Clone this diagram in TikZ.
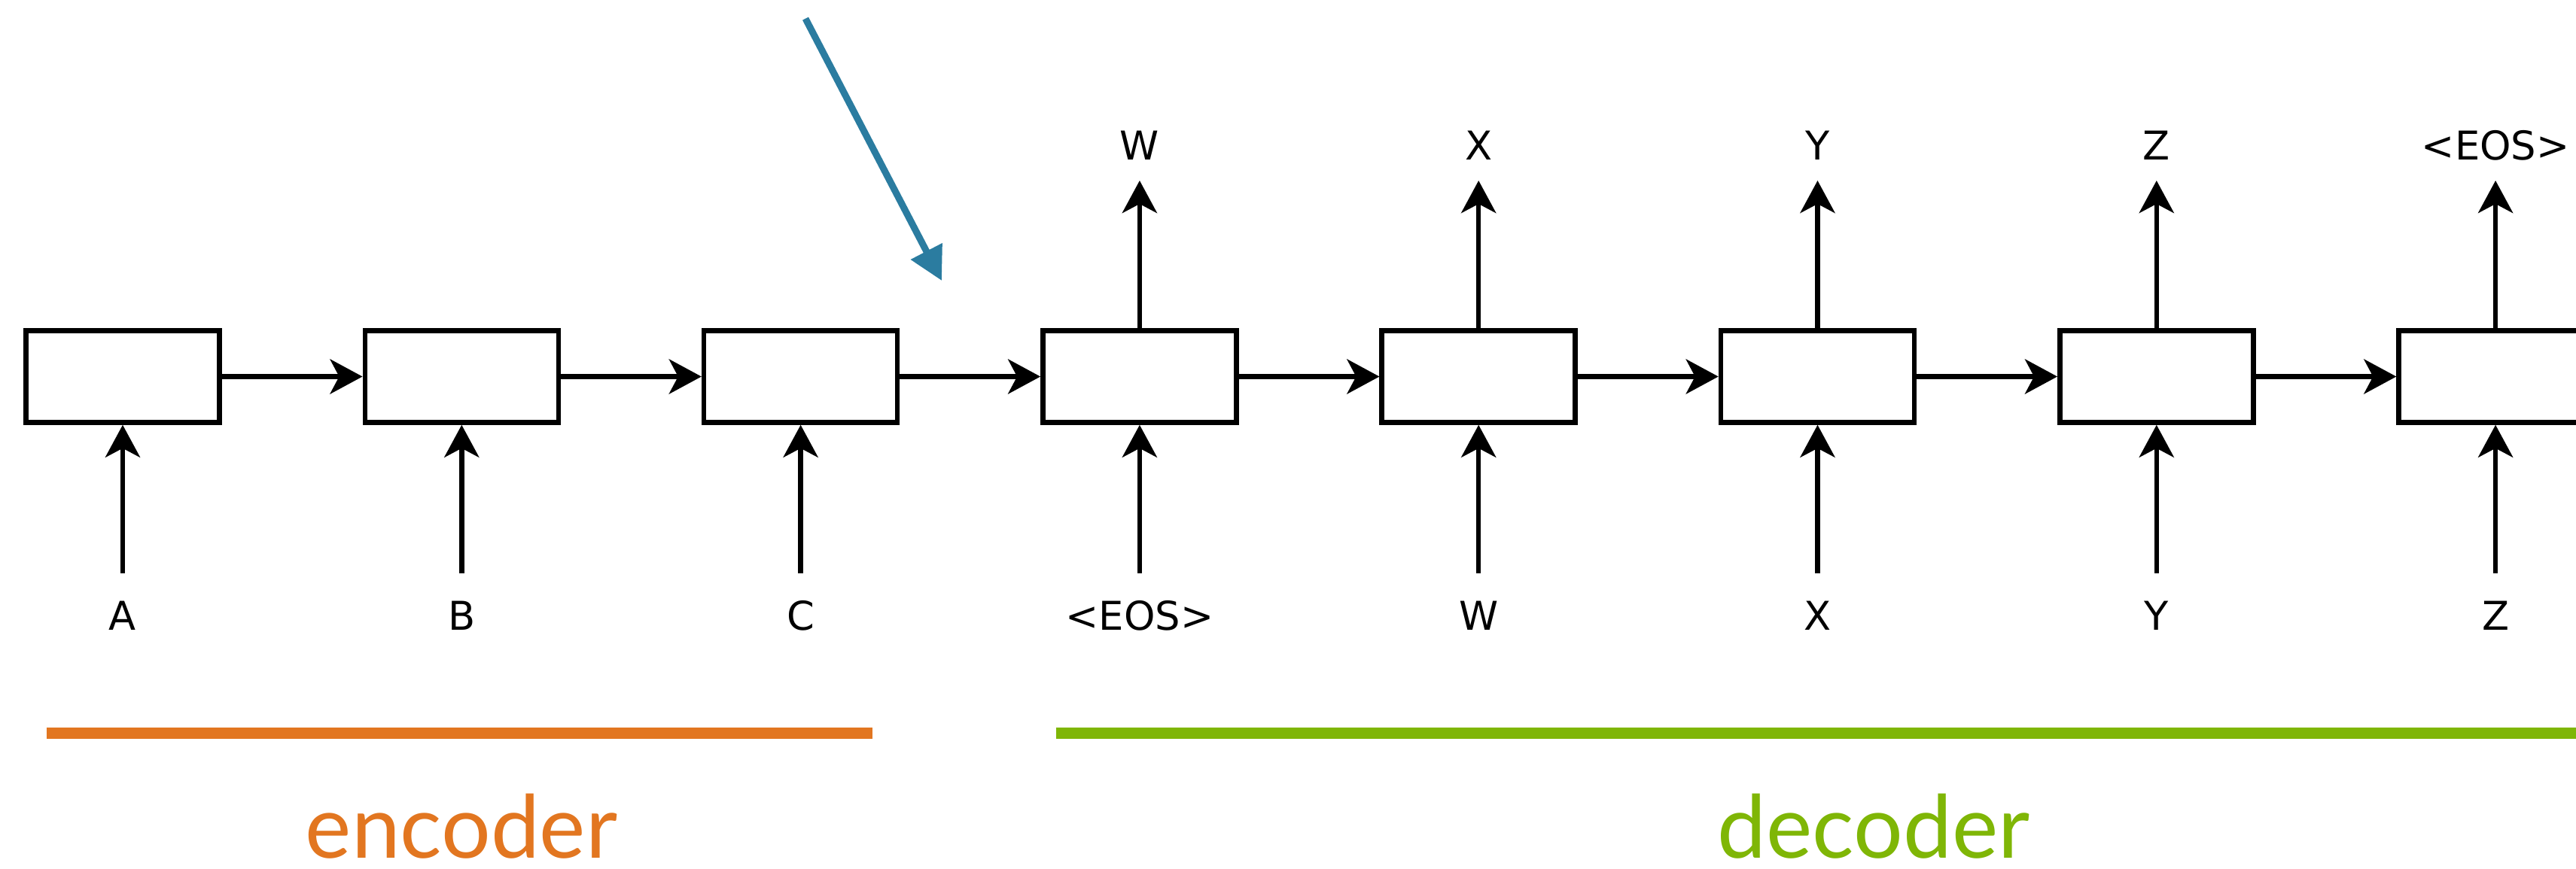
\documentclass[tikz,border=0pt]{standalone}
\usepackage{fontspec}
\setmainfont{DejaVu Sans}
\newfontfamily\partfont{Lato}
\usepackage{tikz}
\usetikzlibrary{positioning,arrows.meta}

\definecolor{encorange}{RGB}{226,118,32}
\definecolor{decgreen}{RGB}{127,182,6}
\definecolor{ctxblue}{RGB}{43,124,160}

\begin{document}
\begin{tikzpicture}[
		line width=0.065cm,
		>={Stealth[length=0.43cm,width=0.46cm,inset=0.12cm]},
		cell/.style={draw,minimum width=2.57cm,minimum height=1.22cm,inner sep=0pt},
		word/.style={inner sep=0pt,outer sep=0pt,text height=10.9pt,text depth=0pt,font=\fontsize{15}{18}\selectfont},
		part/.style={anchor=base,inner sep=0pt,font=\partfont\fontsize{33}{40}\selectfont},
		node distance=1.868cm
	]

	\useasboundingbox (0,0) rectangle (34.22,-11.54);
	\clip (0,0) rectangle (34.22,-11.54);

	% encoder / decoder cells
	\node [cell] (e1) at (1.63,-5.005) {};
	\node [cell,right=of e1] (e2) {};
	\node [cell,right=of e2] (e3) {};
	\node [cell,right=of e3] (d1) {};
	\node [cell,right=of d1] (d2) {};
	\node [cell,right=of d2] (d3) {};
	\node [cell,right=of d3] (d4) {};
	\node [cell,right=of d4] (d5) {};

	% inputs
	\node [word,below=2.3475cm of e1] (inA) {A};
	\node [word,below=2.3475cm of e2] (inB) {B};
	\node [word,below=2.3475cm of e3] (inC) {C};
	\node [word,below=2.3475cm of d1] (inEOS) {<EOS>};
	\node [word,below=2.3475cm of d2] (inW) {W};
	\node [word,below=2.3475cm of d3] (inX) {X};
	\node [word,below=2.3475cm of d4] (inY) {Y};
	\node [word,below=2.3475cm of d5] (inZ) {Z};

	% outputs
	\node [word,above=2.2425cm of d1] (outW) {W};
	\node [word,above=2.2425cm of d2] (outX) {X};
	\node [word,above=2.2425cm of d3] (outY) {Y};
	\node [word,above=2.2425cm of d4] (outZ) {Z};
	\node [word,above=2.2425cm of d5] (outEOS) {<EOS>};

	\draw [->] (e1) -- (e2);
	\draw [->] (e2) -- (e3);
	\draw [->] (e3) -- (d1);
	\draw [->] (d1) -- (d2);
	\draw [->] (d2) -- (d3);
	\draw [->] (d3) -- (d4);
	\draw [->] (d4) -- (d5);

	\draw [->,shorten <=0.38cm] (inA.north) -- (e1.south);
	\draw [->,shorten <=0.38cm] (inB.north) -- (e2.south);
	\draw [->,shorten <=0.38cm] (inC.north) -- (e3.south);
	\draw [->,shorten <=0.38cm] (inEOS.north) -- (d1.south);
	\draw [->,shorten <=0.38cm] (inW.north) -- (d2.south);
	\draw [->,shorten <=0.38cm] (inX.north) -- (d3.south);
	\draw [->,shorten <=0.38cm] (inY.north) -- (d4.south);
	\draw [->,shorten <=0.38cm] (inZ.north) -- (d5.south);

	\draw [->,shorten >=0.28cm] (d1.north) -- (outW.south);
	\draw [->,shorten >=0.28cm] (d2.north) -- (outX.south);
	\draw [->,shorten >=0.28cm] (d3.north) -- (outY.south);
	\draw [->,shorten >=0.28cm] (d4.north) -- (outZ.south);
	\draw [->,shorten >=0.28cm] (d5.north) -- (outEOS.south);

	% thought vector pointer
	\coordinate (ctxstart) at (10.70,-0.247);
	\coordinate (ctxend) at (12.51,-3.73);
	\draw [-{Triangle[length=0.44cm,width=0.45cm]},ctxblue,line width=0.09cm] (ctxstart) -- (ctxend);

	% bars and captions
	\coordinate (encL) at (0.62,-9.745);
	\coordinate (encR) at (11.59,-9.745);
	\coordinate (decL) at (14.03,-9.745);
	\coordinate (decR) at (35.75,-9.745);
	\draw [encorange,line width=0.15cm] (encL) -- (encR);
	\draw [decgreen,line width=0.15cm] (decL) -- (decR);
	\node [part,text=encorange] (enc) at (6.13,-11.40) {encoder};
	\node [part,text=decgreen] (dec) at (24.89,-11.40) {decoder};
\end{tikzpicture}
\end{document}
